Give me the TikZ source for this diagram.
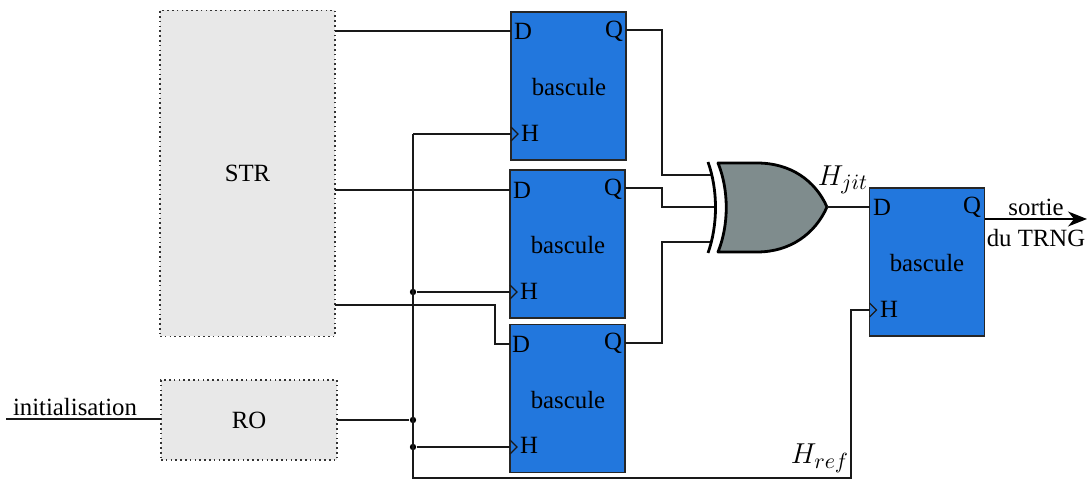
\documentclass[tikz,border=0pt]{standalone}
\usepackage{fontspec}
\setmainfont{Liberation Serif}
\usetikzlibrary{arrows.meta}
\definecolor{bleubascule}{RGB}{34,119,221}
\definecolor{grisporte}{RGB}{127,140,141}
\tikzset{
    bascule/.style = {rectangle, draw=black!85, line width=0.7pt, fill=bleubascule, inner sep=0pt, outer sep=0pt, minimum width=57.5pt, minimum height=74pt},
    anneau/.style = {rectangle, draw=black!80, dash pattern=on 0.8pt off 1.6pt, line width=0.6pt, fill=gray!18, inner sep=0pt, outer sep=0pt},
    broche/.style = {inner sep=0pt, outer sep=0pt},
    point/.style = {circle, fill=black, inner sep=0pt, minimum size=3.2pt},
    fil/.style = {-, line width=0.65pt, black!90},
    porte/.style = {line width=1.4pt, black, line join=round},
}
\begin{document}
\begin{tikzpicture}[x=0.5pt, y=-0.5pt, font=\fontsize{12.4}{14}\selectfont]
  \useasboundingbox (0,0) rectangle (1087,480);

  % anneaux
  \node[anneau, minimum width=87.5pt, minimum height=163pt] (str) at (247.5,173.5) {STR};
  \node[anneau, minimum width=88pt, minimum height=40pt] (ro) at (249,420) {RO};

  % bascules
  \node[bascule] (b1) at (568.5,86) {};
  \node[broche] (t1) at (569,87) {bascule};
  \node[broche] (d1) at (523,31) {D};
  \node[broche] (q1) at (614,31) {Q};
  \node[broche] (h1) at (530,133.5) {H};
  \node[bascule] (b2) at (567.5,244) {};
  \node[broche] (t2) at (568,245) {bascule};
  \node[broche] (d2) at (522,190) {D};
  \node[broche] (q2) at (613,189) {Q};
  \node[broche] (h2) at (529,291.5) {H};
  \node[bascule] (b3) at (567.5,398.5) {};
  \node[broche] (t3) at (568,400) {bascule};
  \node[broche] (d3) at (521,344) {D};
  \node[broche] (q3) at (613,343) {Q};
  \node[broche] (h3) at (529,445.5) {H};
  \node[bascule] (b4) at (927,262) {};
  \node[broche] (t4) at (927,263) {bascule};
  \node[broche] (d4) at (882,207) {D};
  \node[broche] (q4) at (972,207) {Q};
  \node[broche] (h4) at (889,309.5) {H};

  % porte
  \coordinate (e1) at (712,175);
  \coordinate (e2) at (716,207);
  \coordinate (e3) at (712,242);
  \coordinate (xs) at (827,207);
  \draw[fil] (b1.east |- 0,30) -- (662,30) -- (662,175) -- (e1);
  \draw[fil] (b2.east |- 0,188) -- (662,188) -- (662,207) -- (e2);
  \draw[fil] (b3.east |- 0,343) -- (662,343) -- (662,242) -- (e3);
  \draw[porte, fill=grisporte] (718,163) -- (757,163) .. controls (790,163) and (815,180) .. (xs) .. controls (815,234) and (790,252) .. (757,252) -- (718,252) .. controls (729,225) and (729,190) .. (718,163) -- cycle;
  \draw[porte] (708,162) .. controls (718,190) and (718,225) .. (708,253);
  \draw[fil] (xs) -- (b4.west |- xs);

  % entrees D
  \draw[fil] (str.east |- d1) -- (b1.west |- d1);
  \draw[fil] (str.east |- d2) -- (b2.west |- d2);
  \draw[fil] (str.east |- 0,305) -- (495,305) -- (495,344) -- (b3.west |- d3);

  % horloge
  \node[point] (p1) at (413,292) {};
  \node[point] (p2) at (413,420) {};
  \node[point] (p3) at (413,447) {};
  \coordinate (c1) at (413,134);
  \coordinate (c2) at (413,478);
  \coordinate (c3) at (851,478);
  \coordinate (c4) at (851,310);
  \draw[fil] (ro.east |- p2) -- (p2);
  \draw[fil] (c1) -- (b1.west |- c1);
  \draw[fil] (b1.west |- c1) ++(0,-7) -- ++(7,7) -- ++(-7,7);
  \draw[fil] (c1) -- (c2) -- (c3) -- (c4) -- (b4.west |- c4);
  \draw[fil] (b4.west |- c4) ++(0,-7) -- ++(7,7) -- ++(-7,7);
  \draw[fil] (p1) -- (b2.west |- p1);
  \draw[fil] (b2.west |- p1) ++(0,-7) -- ++(7,7) -- ++(-7,7);
  \draw[fil] (p3) -- (b3.west |- p3);
  \draw[fil] (b3.west |- p3) ++(0,-7) -- ++(7,7) -- ++(-7,7);

  % entree et sortie
  \coordinate (init) at (6,419);
  \coordinate (fin) at (1087,219);
  \draw[fil] (init) -- (ro.west |- init);
  \draw[-{Stealth[length=9.5pt,width=7.5pt,inset=3pt]}, line width=0.8pt] (b4.east |- fin) -- (fin);
  \node[broche] (tinit) at (75,407) {initialisation};
  \node[broche] (tsortie) at (1036,207) {sortie};
  \node[broche] (tdu) at (1036,238) {du TRNG};
  \node[broche, font=\fontsize{15}{17}\selectfont] (hjit) at (843,180) {$H_{jit}$};
  \node[broche, font=\fontsize{15}{17}\selectfont] (href) at (820,458) {$H_{ref}$};
\end{tikzpicture}
\end{document}
